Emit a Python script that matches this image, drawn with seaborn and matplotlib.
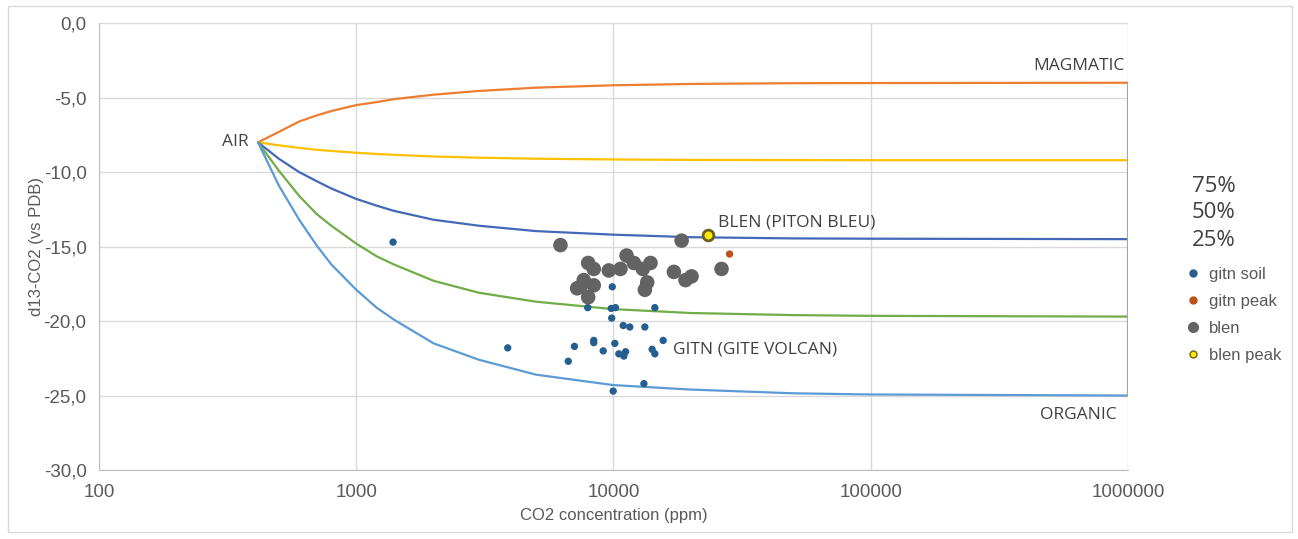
import matplotlib.pyplot as plt
import matplotlib.ticker as mticker
from matplotlib.lines import Line2D
from matplotlib.patches import Rectangle
import pandas as pd
import seaborn as sns

# Mixing curves (CO2 ppm -> d13C)
mix_x = [415, 500, 600, 700, 800, 1000, 1200, 1400, 2000, 3000, 5000, 10000, 20000, 50000, 100000, 1000000]
mix_magmatic = [-8.0, -7.3, -6.6, -6.2, -5.9, -5.5, -5.3, -5.1, -4.8, -4.55, -4.33, -4.17, -4.08, -4.03, -4.02, -4.0]
mix_75 = [-8.0, -8.2, -8.37, -8.5, -8.58, -8.7, -8.78, -8.84, -8.95, -9.03, -9.1, -9.15, -9.18, -9.19, -9.2, -9.2]
mix_50 = [-8.0, -9.1, -10.0, -10.6, -11.1, -11.8, -12.25, -12.6, -13.2, -13.6, -13.96, -14.2, -14.37, -14.45, -14.47, -14.5]
mix_25 = [-8.0, -9.9, -11.6, -12.8, -13.6, -14.8, -15.65, -16.2, -17.3, -18.1, -18.7, -19.2, -19.46, -19.6, -19.65, -19.7]
mix_organic = [-8.0, -10.9, -13.2, -14.9, -16.2, -17.9, -19.1, -19.9, -21.5, -22.6, -23.6, -24.3, -24.6, -24.85, -24.93, -25.0]

# Soil gas samples
gitn_soil_x = [1390, 7940, 9890, 9800, 10180, 14480, 9840, 10910, 11570, 13240, 15600, 8380, 8380,
               7050, 3880, 9120, 10120, 10490, 10970, 11140, 14130, 14480, 6670, 13130, 9970]
gitn_soil_y = [-14.7, -19.1, -17.7, -19.15, -19.1, -19.1, -19.8, -20.3, -20.4, -20.4, -21.3, -21.3, -21.45,
               -21.7, -21.8, -22.0, -21.5, -22.2, -22.35, -22.06, -21.9, -22.2, -22.7, -24.2, -24.7]
gitn_peak_x = [28260]
gitn_peak_y = [-15.5]
blen_x = [6220, 18400, 26300, 7970, 8380, 9590, 10640, 11240, 12000, 13000, 13930, 17170, 19050, 20110,
          7660, 7440, 7220, 8380, 7970, 13240, 13520]
blen_y = [-14.9, -14.6, -16.5, -16.1, -16.5, -16.6, -16.5, -15.6, -16.1, -16.5, -16.1, -16.7, -17.25, -17.0,
          -17.25, -17.7, -17.8, -17.6, -18.4, -17.9, -17.4]
blen_peak_x = [23360]
blen_peak_y = [-14.2]

sns.set_style("white")
plt.rcParams['font.family'] = ['Liberation Sans', 'DejaVu Sans']

fig, ax = plt.subplots(figsize=(12.98, 5.39), dpi=100)
fig.subplots_adjust(left=0.0763, right=0.869, bottom=0.128, top=0.957)

# Mixing lines
curves = {"MAGMATIC": mix_magmatic, "75%": mix_75, "50%": mix_50, "25%": mix_25, "ORGANIC": mix_organic}
curve_colors = {"MAGMATIC": "#ED7D31", "75%": "#FFC000", "50%": "#4468B8", "25%": "#70AD47", "ORGANIC": "#5B9BD5"}
df_mix = pd.concat([pd.DataFrame({"x": mix_x, "y": v, "curve": k}) for k, v in curves.items()])
sns.lineplot(data=df_mix, x="x", y="y", hue="curve", palette=curve_colors, linewidth=1.6,
             legend=False, ax=ax, sort=False)
ax.plot([1e6, 1e6], [mix_magmatic[-1], mix_organic[-1]], color="#A6A6A6", linewidth=1.6, zorder=2)

# Samples
sns.scatterplot(x=gitn_soil_x, y=gitn_soil_y, color="#255E91", s=28, edgecolor="none", ax=ax, zorder=4)
sns.scatterplot(x=gitn_peak_x, y=gitn_peak_y, color="#C0501A", s=28, edgecolor="none", ax=ax, zorder=4)
sns.scatterplot(x=blen_x, y=blen_y, color="#636363", s=110, edgecolor="none", ax=ax, zorder=3)
sns.scatterplot(x=blen_peak_x, y=blen_peak_y, color="#FFE800", s=60, edgecolor="#6B6020", linewidth=2.0,
                ax=ax, zorder=5)

# Axes
ax.set_xscale("log")
ax.set_xlim(100, 1e6)
ax.set_ylim(-30, 0)
ax.set_xticks([100, 1000, 10000, 100000, 1000000])
ax.xaxis.set_major_formatter(mticker.FuncFormatter(lambda v, p: f"{int(round(v))}"))
ax.xaxis.set_minor_locator(mticker.NullLocator())
ax.set_yticks([0, -5, -10, -15, -20, -25, -30])
ax.yaxis.set_major_formatter(mticker.FuncFormatter(lambda v, p: f"{v:.1f}".replace(".", ",")))
ax.grid(True, color="#D9D9D9", linewidth=1.0)
ax.set_axisbelow(True)
ax.tick_params(length=0, labelsize=13.5, colors="#595959")
ax.tick_params(axis="x", pad=10)
ax.tick_params(axis="y", pad=9)
for s in ["top", "right"]:
    ax.spines[s].set_visible(False)
for s in ["left", "bottom"]:
    ax.spines[s].set_color("#BFBFBF")
ax.set_xlabel("CO2 concentration (ppm)", fontsize=12, color="#595959", labelpad=5)
ax.set_ylabel("d13-CO2 (vs PDB)", fontsize=12, color="#595959", labelpad=0)

# Annotations
lab = dict(family=["Open Sans", "DejaVu Sans"], fontsize=12.5, color="#404040")
ax.text(380, -8.0, "AIR", ha="right", va="center", **lab)
ax.text(9.7e5, -3.4, "MAGMATIC", ha="right", va="bottom", **lab)
ax.text(25500, -13.4, "BLEN (PITON BLEU)", ha="left", va="center", **lab)
ax.text(17000, -21.9, "GITN (GITE VOLCAN)", ha="left", va="center", **lab)
ax.text(9.06e5, -26.3, "ORGANIC", ha="right", va="center", **lab)

# Legend
pct = dict(family=["Open Sans", "DejaVu Sans"], fontsize=16, color="#404040", va="center")
fig.text(0.918, 1 - 186 / 539, "75%", **pct)
fig.text(0.918, 1 - 213 / 539, "50%", **pct)
fig.text(0.918, 1 - 240 / 539, "25%", **pct)
handles = [
    Line2D([], [], marker="o", linestyle="none", color="#255E91", markersize=5, label="gitn soil"),
    Line2D([], [], marker="o", linestyle="none", color="#C0501A", markersize=5, label="gitn peak"),
    Line2D([], [], marker="o", linestyle="none", color="#636363", markersize=7, label="blen"),
    Line2D([], [], marker="o", linestyle="none", markerfacecolor="#FFE800", markeredgecolor="#6B6020",
           markersize=5, label="blen peak"),
]
fig.legend(handles=handles, loc="upper left", bbox_to_anchor=(0.913, 1 - 267 / 539), frameon=False,
           fontsize=12, labelcolor="#595959", handletextpad=0.45, labelspacing=0.72, handlelength=1.0,
           borderaxespad=0, borderpad=0)

fig.patches.append(Rectangle((0.006, 0.013), 0.989, 0.975, transform=fig.transFigure,
                             fill=False, edgecolor="#D9D9D9", linewidth=1.0))

fig.savefig("out.png", dpi=100)
